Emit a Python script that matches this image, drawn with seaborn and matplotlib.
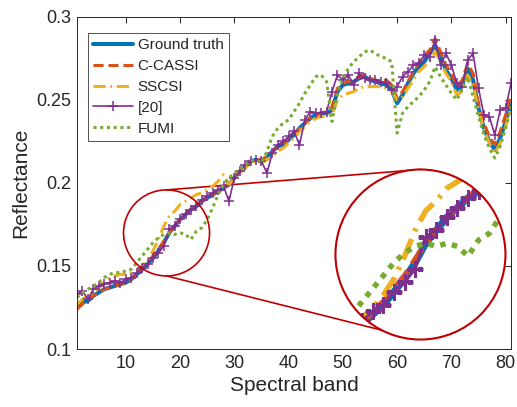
import numpy as np
import matplotlib
matplotlib.use("Agg")
import matplotlib.pyplot as plt
import seaborn as sns
from matplotlib.patches import Ellipse

# spectral bands 1..81
bands = np.arange(1, 82)

ground_truth = [0.125, 0.128, 0.129, 0.132, 0.134, 0.136, 0.137, 0.138, 0.139, 0.140,
                0.142, 0.145, 0.148, 0.151, 0.155, 0.159, 0.164, 0.170, 0.174, 0.178,
                0.181, 0.184, 0.186, 0.189, 0.191, 0.193, 0.195, 0.197, 0.199, 0.203,
                0.207, 0.210, 0.213, 0.214, 0.213, 0.215, 0.219, 0.222, 0.223, 0.226,
                0.229, 0.233, 0.236, 0.239, 0.241, 0.242, 0.242, 0.244, 0.255, 0.259,
                0.260, 0.261, 0.263, 0.264, 0.262, 0.261, 0.260, 0.259, 0.256, 0.248,
                0.253, 0.260, 0.266, 0.270, 0.273, 0.278, 0.283, 0.276, 0.268, 0.263,
                0.256, 0.259, 0.269, 0.262, 0.245, 0.233, 0.225, 0.220, 0.227, 0.237,
                0.248]

c_cassi = [0.124, 0.127, 0.130, 0.132, 0.134, 0.136, 0.137, 0.138, 0.139, 0.140,
           0.142, 0.145, 0.149, 0.152, 0.156, 0.160, 0.165, 0.170, 0.174, 0.178,
           0.181, 0.184, 0.187, 0.189, 0.191, 0.193, 0.195, 0.197, 0.199, 0.203,
           0.207, 0.211, 0.213, 0.214, 0.214, 0.216, 0.219, 0.222, 0.224, 0.226,
           0.229, 0.233, 0.236, 0.239, 0.241, 0.242, 0.243, 0.246, 0.257, 0.260,
           0.261, 0.262, 0.264, 0.265, 0.263, 0.262, 0.261, 0.262, 0.259, 0.251,
           0.255, 0.261, 0.267, 0.272, 0.277, 0.280, 0.287, 0.279, 0.271, 0.266,
           0.258, 0.262, 0.272, 0.266, 0.248, 0.236, 0.228, 0.223, 0.231, 0.241,
           0.253]

sscsi = [0.127, 0.130, 0.132, 0.134, 0.137, 0.140, 0.143, 0.144, 0.145, 0.145,
         0.146, 0.147, 0.150, 0.154, 0.159, 0.166, 0.174, 0.180, 0.183, 0.187,
         0.189, 0.191, 0.193, 0.194, 0.196, 0.198, 0.201, 0.205, 0.199, 0.203,
         0.206, 0.209, 0.212, 0.213, 0.212, 0.214, 0.216, 0.219, 0.221, 0.224,
         0.227, 0.231, 0.234, 0.237, 0.239, 0.240, 0.240, 0.241, 0.250, 0.253,
         0.254, 0.255, 0.257, 0.258, 0.258, 0.258, 0.258, 0.257, 0.255, 0.250,
         0.252, 0.257, 0.262, 0.267, 0.270, 0.274, 0.279, 0.273, 0.266, 0.261,
         0.253, 0.255, 0.265, 0.259, 0.244, 0.232, 0.224, 0.218, 0.224, 0.234,
         0.246]

ref20 = [0.133, 0.135, 0.130, 0.136, 0.138, 0.139, 0.140, 0.141, 0.140, 0.142,
         0.143, 0.146, 0.149, 0.151, 0.155, 0.158, 0.162, 0.172, 0.174, 0.178,
         0.181, 0.184, 0.186, 0.190, 0.192, 0.194, 0.196, 0.198, 0.189, 0.203,
         0.207, 0.211, 0.213, 0.214, 0.213, 0.206, 0.218, 0.223, 0.225, 0.228,
         0.231, 0.223, 0.238, 0.243, 0.242, 0.242, 0.243, 0.255, 0.265, 0.262,
         0.265, 0.259, 0.266, 0.263, 0.262, 0.262, 0.261, 0.260, 0.256, 0.258,
         0.264, 0.267, 0.271, 0.272, 0.277, 0.276, 0.286, 0.271, 0.278, 0.271,
         0.260, 0.258, 0.274, 0.278, 0.257, 0.241, 0.240, 0.229, 0.244, 0.245,
         0.260]

fumi = [0.131, 0.134, 0.136, 0.138, 0.140, 0.143, 0.145, 0.146, 0.146, 0.147,
        0.148, 0.152, 0.156, 0.160, 0.164, 0.167, 0.169, 0.170, 0.169, 0.170,
        0.169, 0.166, 0.171, 0.173, 0.178, 0.185, 0.193, 0.199, 0.203, 0.206,
        0.208, 0.211, 0.213, 0.214, 0.212, 0.219, 0.228, 0.233, 0.236, 0.238,
        0.243, 0.248, 0.254, 0.259, 0.264, 0.265, 0.261, 0.237, 0.254, 0.263,
        0.269, 0.273, 0.276, 0.279, 0.280, 0.278, 0.276, 0.275, 0.273, 0.230,
        0.242, 0.246, 0.249, 0.252, 0.256, 0.261, 0.270, 0.264, 0.259, 0.254,
        0.250, 0.257, 0.264, 0.252, 0.240, 0.229, 0.221, 0.215, 0.222, 0.233,
        0.246]

names = ["Ground truth", "C-CASSI", "SSCSI", "[20]", "FUMI"]
series = [ground_truth, c_cassi, sscsi, ref20, fumi]
colors = ["#0072BD", "#D95319", "#EDB120", "#7E2F8E", "#77AC30"]
widths = [2.9, 2.2, 2.2, 1.2, 2.2]
styles = ["-", (0, (3.3, 1.6)), (0, (4, 1.5, 0.6, 1.5)), "-", (0, (1, 1.2))]
markers = [None, None, None, "+", None]

sns.set_style("white")
plt.rcParams["font.family"] = ["Liberation Sans", "DejaVu Sans"]

fig = plt.figure(figsize=(5.17, 4.07), dpi=100)
ax = fig.add_axes([0.149, 0.1425, 0.8395, 0.816])

for name, vals, c, lw, ls, mk in zip(names, series, colors, widths, styles, markers):
    sns.lineplot(x=bands, y=vals, ax=ax, color=c, linewidth=lw, linestyle=ls,
                 marker=mk, markersize=6.5, markeredgewidth=1.1, markeredgecolor=c,
                 label=name, errorbar=None)

ax.set_xlim(1, 81)
ax.set_ylim(0.1, 0.3)
ax.set_xticks([10, 20, 30, 40, 50, 60, 70, 80])
ax.set_yticks([0.1, 0.15, 0.2, 0.25, 0.3])
ax.set_yticklabels(["0.1", "0.15", "0.2", "0.25", "0.3"])
ax.tick_params(direction="in", top=True, right=True, length=4, width=0.7,
               labelsize=13, colors="#262626", pad=4.5)
for s in ax.spines.values():
    s.set_linewidth(0.7)
    s.set_color("#262626")
ax.set_xlabel("Spectral band", fontsize=15, color="#262626", labelpad=3)
ax.set_ylabel("Reflectance", fontsize=15, color="#262626", labelpad=4)

# magnifier: small circle -> big circle (pixel radii converted to data units)
px_x = 434 / 80.0      # pixels per band
px_y = 332 / 0.2       # pixels per reflectance unit
small_c = (17.5, 0.1699)
small_r = 43
big_c = (64.3, 0.1569)
big_r = 85
src_c = (17.5, 0.1665)
mag = 1.95
red = "#C00000"

ax.plot([small_c[0], big_c[0]], [small_c[1] + small_r / px_y, big_c[1] + big_r / px_y],
        color=red, lw=1.2, zorder=1.5)
ax.plot([small_c[0], big_c[0] - 1.5], [small_c[1] - small_r / px_y, big_c[1] - big_r / px_y + 0.001],
        color=red, lw=1.2, zorder=1.5)

ax.add_patch(Ellipse(small_c, 2 * small_r / px_x, 2 * small_r / px_y, fill=False,
                     ec=red, lw=1.2, zorder=5))
clip = Ellipse(big_c, 2 * big_r / px_x, 2 * big_r / px_y, fc="white", ec="none", zorder=3)
ax.add_patch(clip)

for vals, c, lw, ls, mk in zip(series, colors, widths, styles, markers):
    xm = big_c[0] + mag * (bands - src_c[0])
    ym = big_c[1] + mag * (np.array(vals) - src_c[1])
    ln, = ax.plot(xm, ym, color=c, lw=lw * 1.8, linestyle=ls, marker=mk,
                  markersize=12, markeredgewidth=2.2, zorder=4)
    ln.set_clip_path(clip)

ax.add_patch(Ellipse(big_c, 2 * big_r / px_x, 2 * big_r / px_y, fill=False,
                     ec=red, lw=1.5, zorder=5))

leg = ax.legend(loc="upper left", bbox_to_anchor=(0.025, 0.952), borderaxespad=0,
                fontsize=11, handlelength=2.6, handletextpad=0.3, labelspacing=0.45,
                frameon=True, fancybox=False, borderpad=0.35)
leg.get_frame().set_edgecolor("#262626")
leg.get_frame().set_linewidth(0.7)

fig.savefig("out.png", dpi=100)
